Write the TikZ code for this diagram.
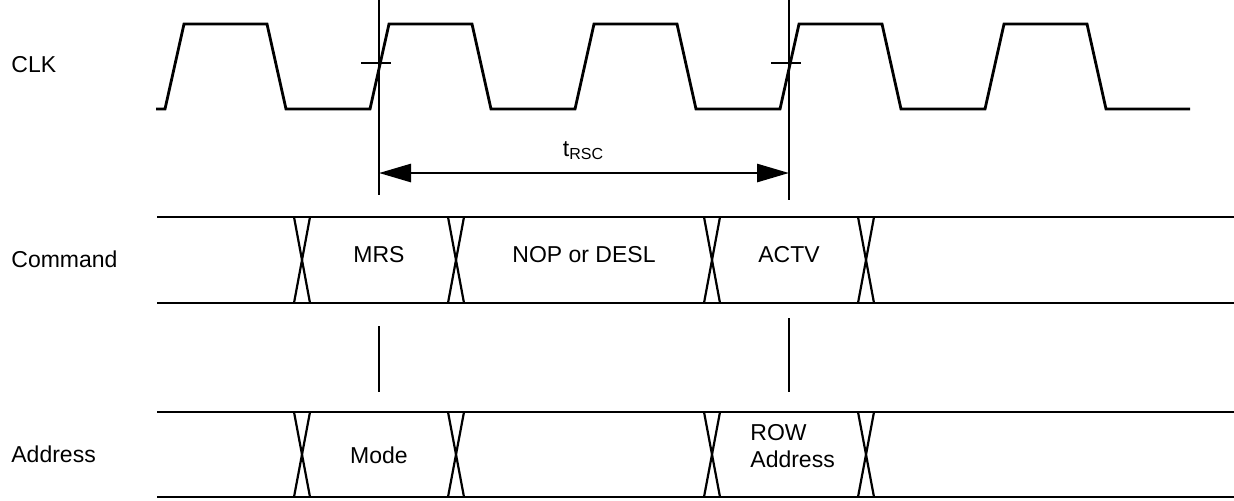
\documentclass[tikz,border=0pt]{standalone}
\usepackage{fontspec}
\setmainfont{Liberation Sans}
\usetikzlibrary{arrows.meta}
\begin{document}
\begin{tikzpicture}[x=0.5pt,y=-0.5pt,
  sig/.style={line width=1.4pt, line join=miter},
  xing/.style={line width=1.1pt},
  refline/.style={line width=1.4pt},
  lbl/.style={font=\fontsize{11.5}{13.5}\selectfont, inner sep=0pt},
  dim/.style={line width=1.4pt, {Triangle[length=16pt,width=9pt]}-{Triangle[length=16pt,width=9pt]}}]
\useasboundingbox (0,0) rectangle (1234,500);
% clock
\draw[sig] (156,109) foreach \k in {0,...,4}{ -- ({165+205*\k},109) -- ({184+205*\k},24) -- ({267+205*\k},24) -- ({286+205*\k},109)} -- (1190,109);
% reference lines
\coordinate (m1top) at (379,0);
\coordinate (m1bot) at (379,195);
\coordinate (m2top) at (789,0);
\coordinate (m2bot) at (789,200);
\draw[refline] (m1top) -- (m1bot);
\draw[refline] (m2top) -- (m2bot);
\draw[refline] (361,63) -- (391,63);
\draw[refline] (771,63) -- (801,63);
\draw[refline] (379,326) -- (379,392);
\draw[refline] (789,318) -- (789,392);
% dimension
\coordinate (a1) at (379,173);
\coordinate (a2) at (789,173);
\draw[dim] (a1) -- (a2);
\node[lbl] (trsc) at (583,151) {t\raisebox{-0.25ex}{\fontsize{8}{9}\selectfont RSC}};
% buses
\foreach \t/\b in {217/303, 412/497}{
  \draw[sig] (157,\t) -- (1234,\t);
  \draw[sig] (157,\b) -- (1234,\b);
  \foreach \c in {302,456,712,866}{
    \draw[xing] ({\c-8},\t) -- ({\c+8},\b);
    \draw[xing] ({\c+8},\t) -- ({\c-8},\b);
  }
}
% labels
\node[lbl, anchor=west] (clk) at (11,65) {CLK};
\node[lbl, anchor=west] (cmd) at (11,259) {Command};
\node[lbl, anchor=west] (adr) at (11,454) {Address};
\node[lbl] (mrs) at (379,255) {MRS};
\node[lbl] (nop) at (584,255) {NOP or DESL};
\node[lbl] (actv) at (789,255) {ACTV};
\node[lbl] (mode) at (379,455) {Mode};
\node[lbl, anchor=west, align=left] (row) at (750,446) {ROW\\Address};
\end{tikzpicture}
\end{document}
